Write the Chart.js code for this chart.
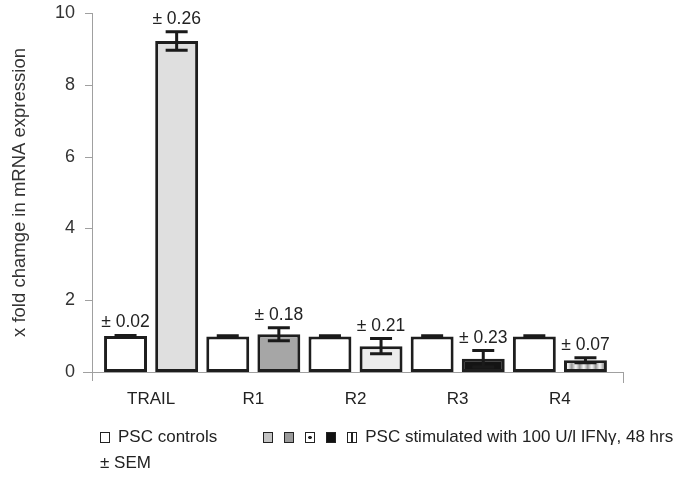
<!DOCTYPE html>
<html>
<head>
<meta charset="utf-8">
<script src="https://cdn.jsdelivr.net/npm/chart.js@4/dist/chart.umd.min.js"></script>
<style>
    body { margin: 0; background: #fff; }
    #wrap { position: relative; width: 683px; height: 478px; }
    .legend-row {
        position: absolute; left: 100px; display: flex; align-items: center;
        font: 17px "Liberation Sans", Arial, sans-serif; color: #222; line-height: 20px;
    }
    .sq { display: inline-block; width: 8px; height: 9px; border: 1.5px solid #222; box-sizing: content-box; }
</style>
</head>
<body>
<div id="wrap">
    <canvas id="chart" width="683" height="478"></canvas>
    <div class="legend-row" style="top:427px">
        <span class="sq" style="background:#fff"></span>
        <span style="margin-left:8px">PSC controls</span>
        <span class="sq" style="margin-left:46px;background:#c4c4c4"></span>
        <span class="sq" style="margin-left:11px;background:#9a9a9a"></span>
        <span class="sq" style="margin-left:11px;background:radial-gradient(circle,#222 0 1.5px,#fff 2px)"></span>
        <span class="sq" style="margin-left:11px;background:#111"></span>
        <span class="sq" style="margin-left:11px;background:linear-gradient(90deg,#fff 0 40%,#222 40% 60%,#fff 60%)"></span>
        <span style="margin-left:8px">PSC stimulated with 100 U/l IFNγ, 48 hrs</span>
    </div>
    <div class="legend-row" style="top:453px">± SEM</div>
</div>
<script>
// ---- data ----
const categories = ['TRAIL', 'R1', 'R2', 'R3', 'R4'];
const controlValues = [1.0, 0.99, 0.99, 0.99, 0.99];
const controlSem = [0.02, 0.02, 0.02, 0.02, 0.02];
const controlSemLabels = ['± 0.02', '', '', '', ''];
const stimValues = [9.22, 1.05, 0.72, 0.37, 0.33];
const stimSem = [0.26, 0.18, 0.21, 0.23, 0.07];
const stimSemLabels = ['± 0.26', '± 0.18', '± 0.21', '± 0.23', '± 0.07'];
const yTicks = [0, 2, 4, 6, 8, 10];

const FONT = '"Liberation Sans", Arial, sans-serif';

// striped fill for the R4 bar
function stripePattern() {
    const p = document.createElement('canvas');
    p.width = 8; p.height = 4;
    const g = p.getContext('2d');
    const shades = ['#e6e6e6', '#cfcfcf', '#b5b5b5', '#9c9c9c', '#a8a8a8', '#c2c2c2', '#dadada', '#efefef'];
    shades.forEach((s, i) => { g.fillStyle = s; g.fillRect(i, 0, 1, 4); });
    return g.createPattern(p, 'repeat');
}

const stimColors = ['#dfdfdf', '#a6a6a6', '#ececec', '#141414', stripePattern()];

// axis lines drawn a little outside the plot, like the original
const axisLines = {
    id: 'axisLines',
    beforeDatasetsDraw(chart) {
        const { ctx: c, chartArea: a, scales: { y } } = chart;
        const ax = a.left - 8;
        const y0 = y.getPixelForValue(0);
        c.save();
        c.strokeStyle = '#a0a0a0';
        c.lineWidth = 1;
        c.beginPath();
        c.moveTo(ax + 0.5, y.getPixelForValue(10));
        c.lineTo(ax + 0.5, y0 + 9);
        yTicks.forEach(t => {
            const ty = Math.round(y.getPixelForValue(t)) + 0.5;
            c.moveTo(ax - 7, ty);
            c.lineTo(ax, ty);
        });
        c.moveTo(a.left - 17, Math.round(y0) + 0.5);
        c.lineTo(a.right + 12, Math.round(y0) + 0.5);
        c.moveTo(a.right + 12.5, y0);
        c.lineTo(a.right + 12.5, y0 + 11);
        c.stroke();
        c.restore();
    }
};

// SEM error bars and their "± x" labels
const errorBars = {
    id: 'errorBars',
    afterDatasetsDraw(chart) {
        const { ctx: c, scales: { y } } = chart;
        chart.data.datasets.forEach((ds, di) => {
            chart.getDatasetMeta(di).data.forEach((bar, i) => {
                const v = ds.data[i], e = ds.sem[i];
                const yTop = y.getPixelForValue(v + e);
                const yBot = y.getPixelForValue(v - e);
                c.save();
                c.strokeStyle = '#1a1a1a';
                c.lineWidth = 3;
                c.beginPath();
                c.moveTo(bar.x, yTop); c.lineTo(bar.x, yBot);
                c.moveTo(bar.x - 11, yTop); c.lineTo(bar.x + 11, yTop);
                c.moveTo(bar.x - 11, yBot); c.lineTo(bar.x + 11, yBot);
                c.stroke();
                const lab = ds.semLabels[i];
                if (lab) {
                    c.fillStyle = '#222';
                    c.font = '17.5px ' + FONT;
                    c.textAlign = 'center';
                    c.textBaseline = 'bottom';
                    c.fillText(lab, bar.x, yTop - 4);
                }
                c.restore();
            });
        });
    }
};

new Chart(document.getElementById('chart'), {
    type: 'bar',
    data: {
        labels: categories,
        datasets: [
            {
                label: 'PSC controls',
                data: controlValues,
                sem: controlSem,
                semLabels: controlSemLabels,
                backgroundColor: '#ffffff',
                borderColor: '#1e1e1e',
                borderWidth: 3,
                borderSkipped: false
            },
            {
                label: 'PSC stimulated with 100 U/l IFNγ, 48 hrs',
                data: stimValues,
                sem: stimSem,
                semLabels: stimSemLabels,
                backgroundColor: stimColors,
                borderColor: '#1e1e1e',
                borderWidth: 3,
                borderSkipped: false
            }
        ]
    },
    options: {
        responsive: false,
        animation: false,
        layout: { padding: { top: 13, right: 72, bottom: 0, left: 0 } },
        datasets: { bar: { categoryPercentage: 1.0, barPercentage: 0.84 } },
        plugins: {
            legend: { display: false },
            tooltip: { enabled: false }
        },
        scales: {
            x: {
                grid: { display: false, drawTicks: false },
                border: { display: false },
                ticks: { color: '#222', font: { family: FONT, size: 17 }, padding: 17 },
                afterFit(scale) { scale.height = 106; }
            },
            y: {
                min: 0,
                max: 10,
                afterBuildTicks(scale) { scale.ticks = yTicks.map(v => ({ value: v })); },
                grid: { display: false, drawTicks: false },
                border: { display: false },
                ticks: { color: '#333', font: { family: FONT, size: 18 }, padding: 25 },
                title: {
                    display: true,
                    text: 'x fold chamge in mRNA expression',
                    color: '#333',
                    font: { family: FONT, size: 18.5 },
                    padding: { top: 9, bottom: 0 }
                },
                afterFit(scale) {
                    scale.width = 100;
                    scale.paddingTop = 0;
                    scale.paddingBottom = 0;
                }
            }
        }
    },
    plugins: [axisLines, errorBars]
});
</script>
</body>
</html>
